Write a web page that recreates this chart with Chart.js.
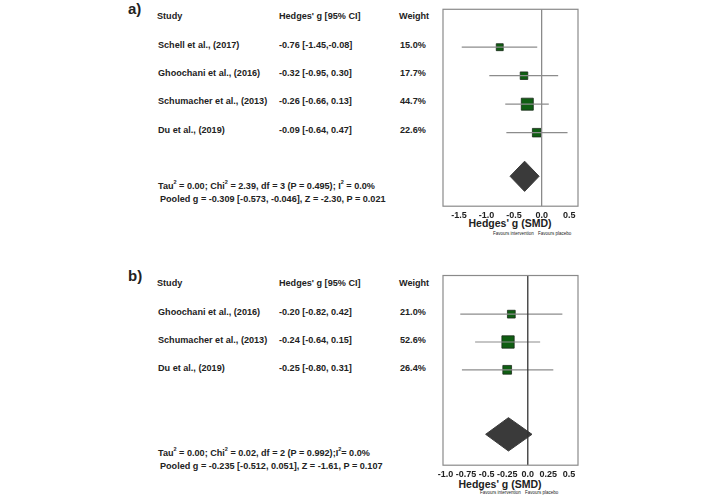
<!DOCTYPE html>
<html><head><meta charset="utf-8">
<script src="https://cdn.jsdelivr.net/npm/chart.js@4"></script>
<style>
body{margin:0;width:706px;height:497px;background:#fff;position:relative;overflow:hidden;font-family:"Liberation Sans",Arial,sans-serif;font-weight:bold;color:#222}
.t{position:absolute;font-size:9.1px;white-space:nowrap;transform:translateY(-50%)}
.lab{position:absolute;font-size:15px;transform:translateY(-50%)}
.ax{position:absolute;font-size:10.5px;transform:translate(-50%,-50%);white-space:nowrap}
.fav{position:absolute;font-size:4.5px;font-weight:normal;white-space:nowrap;transform:translateY(-50%)}
canvas{position:absolute}
</style></head><body>
<div id="txt"></div>
<div style="position:absolute;left:400px;top:0;width:220px;height:222px"><canvas id="cA"></canvas></div>
<div style="position:absolute;left:400px;top:266px;width:220px;height:215px"><canvas id="cB"></canvas></div>
<script>
// panel a
const studiesA = ["Schell et al., (2017)", "Ghoochani et al., (2016)", "Schumacher et al., (2013)", "Du et al., (2019)"];
const estA = [-0.76, -0.32, -0.26, -0.09];
const lowA = [-1.45, -0.95, -0.66, -0.64];
const highA = [-0.08, 0.30, 0.13, 0.47];
const ciTextA = ["-0.76 [-1.45,-0.08]", "-0.32 [-0.95, 0.30]", "-0.26 [-0.66, 0.13]", "-0.09 [-0.64, 0.47]"];
const weightA = [15.0, 17.7, 44.7, 22.6];
const pooledA = [-0.309, -0.573, -0.046];
const ticksA = [-1.5, -1.0, -0.5, 0.0, 0.5];
// panel b
const studiesB = ["Ghoochani et al., (2016)", "Schumacher et al., (2013)", "Du et al., (2019)"];
const estB = [-0.20, -0.24, -0.25];
const lowB = [-0.82, -0.64, -0.80];
const highB = [0.42, 0.15, 0.31];
const ciTextB = ["-0.20 [-0.82, 0.42]", "-0.24 [-0.64, 0.15]", "-0.25 [-0.80, 0.31]"];
const weightB = [21.0, 52.6, 26.4];
const pooledB = [-0.235, -0.512, 0.051];
const ticksB = [-1.0, -0.75, -0.5, -0.25, 0.0, 0.25, 0.5];

const txt = document.getElementById("txt");
function put(cls, x, y, s) {
    const d = document.createElement("div");
    d.className = cls; d.style.left = x + "px"; d.style.top = y + "px"; d.innerHTML = s;
    txt.appendChild(d);
}
function table(lab, y0, rows, names, ci, w, stats, statY) {
    put("lab", 128, y0 - 8, lab);
    put("t", 157, y0, "Study");
    put("t", 279, y0, "Hedges' g [95% CI]");
    put("t", 399, y0, "Weight");
    names.forEach((n, i) => {
        put("t", 158, rows[i], n);
        put("t", 279, rows[i], ci[i]);
        put("t", 400, rows[i], w[i].toFixed(1) + "%");
    });
    put("t", 158, statY, stats[0]);
    put("t", 160, statY + 14, stats[1]);
}
table("a)", 16, [45, 73, 101, 130], studiesA, ciTextA, weightA,
    ["Tau<sup style='font-size:5.5px'>2</sup> = 0.00; Chi<sup style='font-size:5.5px'>2</sup> = 2.39, df = 3 (P = 0.495); I<sup style='font-size:5.5px'>2</sup> = 0.0%",
     "Pooled g = -0.309 [-0.573, -0.046], Z = -2.30, P = 0.021"], 185);
table("b)", 283, [312, 340, 368], studiesB, ciTextB, weightB,
    ["Tau<sup style='font-size:5.5px'>2</sup> = 0.00; Chi<sup style='font-size:5.5px'>2</sup> = 0.02, df = 2 (P = 0.992);I<sup style='font-size:5.5px'>2</sup>= 0.0%",
     "Pooled g = -0.235 [-0.512, 0.051], Z = -1.61, P = 0.107"], 452);
put("ax", 510, 223, "Hedges' g (SMD)");
put("fav", 493, 233, "Favours intervention");
put("fav", 538, 233, "Favours placebo");
put("ax", 500, 484, "Hedges' g (SMD)");
put("fav", 480, 492, "Favours intervention");
put("fav", 525, 492, "Favours placebo");

const boxPlugin = {
    id: "box",
    afterDraw(chart) {
        const a = chart.chartArea, c = chart.ctx;
        c.save(); c.strokeStyle = "#8a8a8a"; c.lineWidth = 1.2;
        c.strokeRect(a.left, a.top, a.right - a.left, a.bottom - a.top);
        c.restore();
    }
};

function forest(id, est, low, high, w, pooled, ticks, xmin, xmax, ymin, ymax, dy, dh, zeroCol, scale) {
    const ds = [];
    ds.push({ type: "line", data: [{x: 0, y: ymin}, {x: 0, y: ymax}], borderColor: zeroCol, borderWidth: 1.3, pointRadius: 0 });
    est.forEach((e, i) => {
        ds.push({ type: "line", data: [{x: low[i], y: i + 1}, {x: high[i], y: i + 1}], borderColor: "#8c8c8c", borderWidth: 1.2, pointRadius: 0 });
    });
    ds.push({ type: "line", data: [
        {x: pooled[1], y: dy}, {x: pooled[0], y: dy - dh}, {x: pooled[2], y: dy}, {x: pooled[0], y: dy + dh}, {x: pooled[1], y: dy}
    ], borderColor: "#3a3a3a", backgroundColor: "#3a3a3a", fill: "shape", borderWidth: 1, pointRadius: 0, tension: 0 });
    ds.push({ type: "scatter", data: est.map((e, i) => ({x: e, y: i + 1})), pointStyle: "rect",
        pointRadius: w.map(v => scale * Math.sqrt(v)), backgroundColor: "#0f5e12", borderColor: "#1a2a1a", borderWidth: 0.8 });
    new Chart(document.getElementById(id), {
        type: "scatter",
        data: { datasets: ds },
        options: {
            responsive: true, maintainAspectRatio: false, animation: false,
            layout: { padding: { left: 43, right: 42, top: 7, bottom: 0 } },
            plugins: { legend: { display: false }, tooltip: { enabled: false } },
            scales: {
                x: { type: "linear", min: xmin, max: xmax, grid: { display: false, drawTicks: true, tickLength: 3 }, border: { display: false },
                    afterBuildTicks: s => { s.ticks = ticks.map(v => ({ value: v })); },
                    ticks: { color: "#222", padding: 1, maxRotation: 0, autoSkip: false, font: { family: "Liberation Sans", weight: "bold", size: 9 },
                        callback: v => v.toString().replace(/^(-?\d+)$/, "$1.0") } },
                y: { type: "linear", reverse: true, min: ymin, max: ymax, display: false }
            }
        },
        plugins: [boxPlugin]
    });
}
forest("cA", estA, lowA, highA, weightA, pooledA, ticksA, -1.79, 0.66, -0.33, 6.58, 5.53, 0.53, "#8a8a8a", 1.27);
forest("cB", estB, lowB, highB, weightB, pooledB, ticksB, -1.03, 0.61, -0.39, 6.43, 5.32, 0.6, "#333", 1.2);
</script>
</body></html>
